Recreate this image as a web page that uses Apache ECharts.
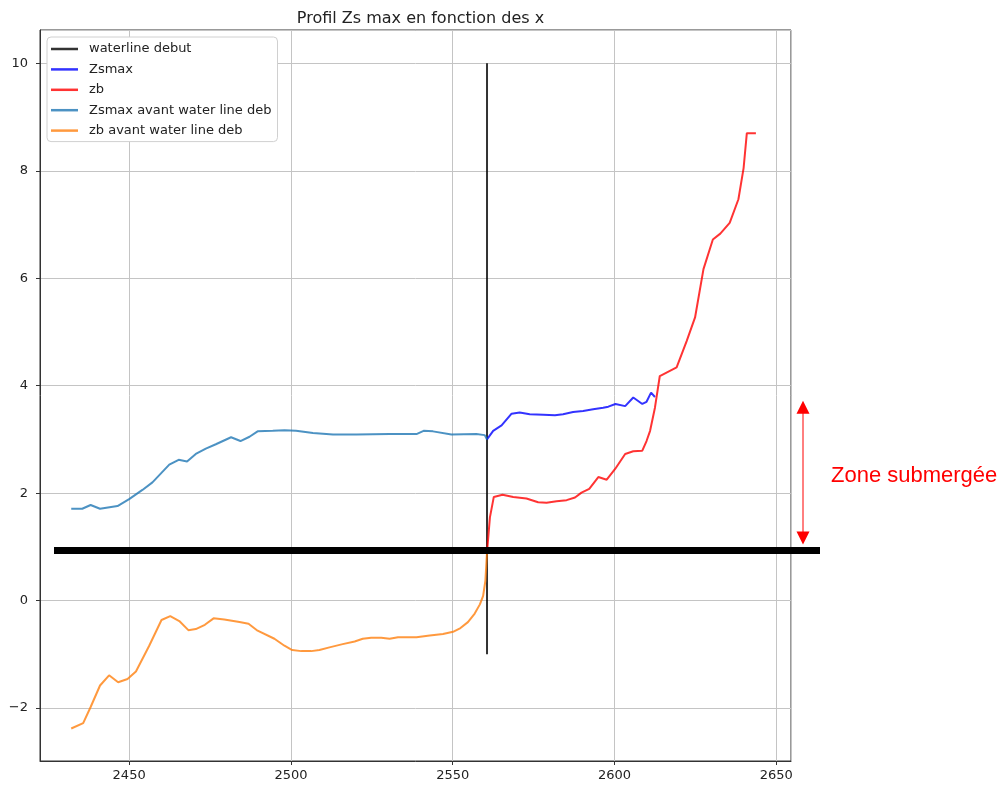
<!DOCTYPE html>
<html>
<head>
<meta charset="utf-8">
<title>Profil Zs max en fonction des x</title>
<script src="https://cdn.jsdelivr.net/npm/echarts@6/dist/echarts.min.js"></script>
<style>
  html, body { margin: 0; padding: 0; background: #fff; }
  #chart { width: 1003px; height: 786px; }
</style>
</head>
<body>
<div id="chart"></div>
<script>
// Waterline start (vertical marker)
const waterlineX = [2560.6, 2560.6];
const waterlineY = [-1, 10];

// Zs max after the waterline start
const zsmaxX = [2560.6, 2562.5, 2565.1, 2568.2, 2570.7, 2573.8, 2578.0, 2581.6, 2584.1, 2587.2, 2590.3, 2593.4, 2596.5, 2598.1, 2600.3, 2603.3, 2605.8, 2608.6, 2609.9, 2611.3, 2612.5];
const zsmaxY = [3.00, 3.16, 3.26, 3.48, 3.50, 3.47, 3.46, 3.45, 3.47, 3.51, 3.53, 3.56, 3.59, 3.61, 3.66, 3.62, 3.78, 3.66, 3.70, 3.87, 3.79];

// Bed level after the waterline start
const zbX = [2560.6, 2561.5, 2562.7, 2565.4, 2568.7, 2572.8, 2576.4, 2579.0, 2582.1, 2585.2, 2587.8, 2589.8, 2592.2, 2595.0, 2597.6, 2600.2, 2603.3, 2605.8, 2608.6, 2609.9, 2611.0, 2612.5, 2614.0, 2619.2, 2622.3, 2624.9, 2627.5, 2630.4, 2632.7, 2635.6, 2638.3, 2639.9, 2640.9, 2643.7];
const zbY = [0.90, 1.55, 1.93, 1.97, 1.93, 1.90, 1.83, 1.82, 1.85, 1.87, 1.92, 2.01, 2.08, 2.30, 2.25, 2.45, 2.73, 2.78, 2.79, 2.97, 3.16, 3.59, 4.18, 4.34, 4.83, 5.27, 6.17, 6.72, 6.83, 7.03, 7.47, 8.05, 8.70, 8.70];

// Zs max before the waterline start
const zsmaxAvX = [2432.1, 2435.5, 2438.1, 2441.0, 2446.4, 2450.0, 2454.1, 2457.2, 2462.4, 2465.3, 2467.9, 2470.6, 2473.7, 2476.8, 2481.5, 2484.4, 2487.2, 2489.7, 2494.4, 2498.0, 2501.6, 2506.8, 2513.0, 2520.2, 2530.5, 2538.8, 2541.0, 2543.9, 2549.6, 2557.3, 2559.9, 2560.6];
const zsmaxAvY = [1.71, 1.71, 1.78, 1.71, 1.76, 1.89, 2.06, 2.20, 2.53, 2.62, 2.59, 2.73, 2.83, 2.91, 3.04, 2.97, 3.05, 3.15, 3.16, 3.17, 3.16, 3.12, 3.09, 3.09, 3.10, 3.10, 3.16, 3.15, 3.09, 3.10, 3.08, 3.00];

// Bed level before the waterline start
const zbAvX = [2432.1, 2435.8, 2438.1, 2441.0, 2443.8, 2446.6, 2449.5, 2452.1, 2456.2, 2460.0, 2462.7, 2465.5, 2468.3, 2470.6, 2473.4, 2476.1, 2479.4, 2484.1, 2486.9, 2489.7, 2494.9, 2498.0, 2500.4, 2503.2, 2506.3, 2508.8, 2511.9, 2516.0, 2519.7, 2522.2, 2524.8, 2527.9, 2530.5, 2533.1, 2538.8, 2542.9, 2547.0, 2550.1, 2552.4, 2554.7, 2556.8, 2558.4, 2559.4, 2560.1, 2560.6];
const zbAvY = [-2.38, -2.28, -1.98, -1.58, -1.39, -1.52, -1.46, -1.32, -0.84, -0.36, -0.29, -0.38, -0.55, -0.53, -0.45, -0.33, -0.35, -0.40, -0.43, -0.56, -0.71, -0.84, -0.92, -0.94, -0.94, -0.92, -0.87, -0.81, -0.76, -0.71, -0.69, -0.69, -0.71, -0.68, -0.68, -0.65, -0.62, -0.58, -0.51, -0.40, -0.24, -0.07, 0.09, 0.37, 0.90];

// Axis ranges
const xRange = [2422.45, 2654.55];
const yRange = [-2.985, 10.62];

// Submerged-zone annotation (data units)
const waterLevel = 0.935;
const zoneTop = 3.72;
const zoneLabel = 'Zone submergée';

const pairs = (xs, ys) => xs.map((x, i) => [x, ys[i]]);
const minus = v => String(v).replace('-', '\u2212');

const FONT = '"DejaVu Sans", sans-serif';

function lineSeries(name, xs, ys, color, width) {
  return {
    name: name,
    type: 'line',
    data: pairs(xs, ys),
    showSymbol: false,
    symbol: 'none',
    smooth: false,
    lineStyle: { color: color, width: width },
    itemStyle: { color: color },
    emphasis: { disabled: true },
    silent: true
  };
}

const chart = echarts.init(document.getElementById('chart'), null, { renderer: 'canvas' });

chart.setOption({
  animation: false,
  backgroundColor: '#ffffff',
  title: {
    text: 'Profil Zs max en fonction des x',
    left: 415.5,
    top: 6,
    textAlign: 'center',
    textStyle: { fontFamily: FONT, fontSize: 16, fontWeight: 'normal', color: '#222' }
  },
  grid: {
    left: 40, right: 212, top: 30, bottom: 25,
    show: true, borderColor: '#333', borderWidth: 1, backgroundColor: 'transparent'
  },
  legend: {
    orient: 'vertical',
    left: 47,
    top: 37,
    padding: [5, 6, 4, 4],
    itemGap: 6.4,
    itemWidth: 27,
    itemHeight: 2.5,
    icon: 'rect',
    backgroundColor: '#fff',
    borderColor: '#d0d0d0',
    borderWidth: 1,
    borderRadius: 4,
    selectedMode: false,
    textStyle: { fontFamily: FONT, fontSize: 13, lineHeight: 14, color: '#222', padding: [0, 0, 0, 6] },
    data: ['waterline debut', 'Zsmax', 'zb', 'Zsmax avant water line deb', 'zb avant water line deb']
  },
  xAxis: {
    type: 'value',
    min: xRange[0],
    max: xRange[1],
    splitNumber: 5,
    axisLine: { show: true, onZero: false, lineStyle: { color: '#333', width: 1 } },
    axisTick: { show: true, inside: false, length: 4, lineStyle: { color: '#333' } },
    splitLine: { show: true, lineStyle: { color: '#c4c4c4', width: 1 } },
    axisLabel: {
      showMinLabel: false, showMaxLabel: false,
      fontFamily: FONT, fontSize: 13, color: '#222', margin: 8,
      formatter: v => minus(v)
    }
  },
  yAxis: {
    type: 'value',
    min: yRange[0],
    max: yRange[1],
    splitNumber: 7,
    axisLine: { show: true, onZero: false, lineStyle: { color: '#333', width: 1 } },
    axisTick: { show: true, inside: false, length: 4, lineStyle: { color: '#333' } },
    splitLine: { show: true, lineStyle: { color: '#c4c4c4', width: 1 } },
    axisLabel: {
      showMinLabel: false, showMaxLabel: false,
      fontFamily: FONT, fontSize: 13, color: '#222', margin: 12,
      formatter: v => minus(v)
    }
  },
  series: [
    lineSeries('waterline debut', waterlineX, waterlineY, 'rgba(0,0,0,0.8)', 2),
    lineSeries('Zsmax', zsmaxX, zsmaxY, 'rgba(0,0,255,0.8)', 2),
    lineSeries('zb', zbX, zbY, 'rgba(255,0,0,0.8)', 2),
    lineSeries('Zsmax avant water line deb', zsmaxAvX, zsmaxAvY, 'rgba(31,119,180,0.8)', 2),
    lineSeries('zb avant water line deb', zbAvX, zbAvY, 'rgba(255,127,14,0.8)', 2)
  ]
});

// Annotation: water level bar, double arrow and label, placed through the axes
const yLevel = chart.convertToPixel({ gridIndex: 0 }, [xRange[0], waterLevel])[1];
const yTop = chart.convertToPixel({ gridIndex: 0 }, [xRange[0], zoneTop])[1];
const barLeft = 54, barRight = 820, arrowX = 803, head = 6.5, headH = 13;
const yBottomTip = yLevel - 6;

chart.setOption({
  graphic: [
    {
      type: 'rect', silent: true, z: 100,
      shape: { x: barLeft, y: yLevel - 3.5, width: barRight - barLeft, height: 7 },
      style: { fill: '#000' }
    },
    {
      type: 'line', silent: true, z: 100,
      shape: { x1: arrowX, y1: yTop + headH - 1, x2: arrowX, y2: yBottomTip - headH + 1 },
      style: { stroke: '#ff0000', lineWidth: 1 }
    },
    {
      type: 'polygon', silent: true, z: 100,
      shape: { points: [[arrowX, yTop], [arrowX - head, yTop + headH], [arrowX + head, yTop + headH]] },
      style: { fill: '#ff0000' }
    },
    {
      type: 'polygon', silent: true, z: 100,
      shape: { points: [[arrowX, yBottomTip], [arrowX - head, yBottomTip - headH], [arrowX + head, yBottomTip - headH]] },
      style: { fill: '#ff0000' }
    },
    {
      type: 'text', silent: true, z: 100,
      x: 831, y: (yTop + yBottomTip) / 2 + 3,
      style: {
        text: zoneLabel, fill: '#ff0000',
        font: '22px "Liberation Sans", Arial, sans-serif',
        verticalAlign: 'middle', align: 'left'
      }
    }
  ]
});
</script>
</body>
</html>
